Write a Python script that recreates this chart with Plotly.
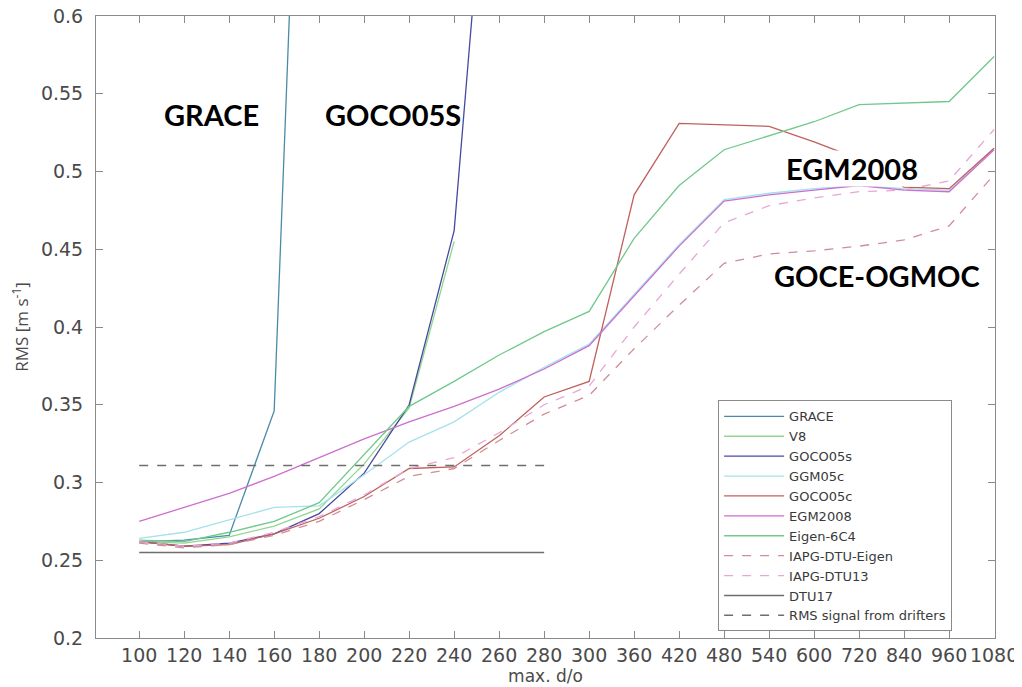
import plotly.graph_objects as go

degrees = ["100", "120", "140", "160", "180", "200", "220", "240", "260", "280",
           "300", "360", "420", "480", "540", "600", "720", "840", "960", "1080"]

grace = [0.262, 0.263, 0.266, 0.346, 1.10]
v8 = [0.262, 0.261, 0.265, 0.272, 0.283, 0.312, 0.348, 0.455]
goco05s = [0.262, 0.259, 0.261, 0.267, 0.280, 0.306, 0.350, 0.462, 0.81]
ggm05c = [0.264, 0.268, 0.276, 0.284, 0.285, 0.305, 0.326, 0.339, 0.358, 0.374,
          0.389, 0.421, 0.453, 0.482, 0.486, 0.489, 0.491, 0.489, 0.488, 0.515]
goco05c = [0.262, 0.259, 0.260, 0.267, 0.277, 0.291, 0.309, 0.310, 0.330, 0.355,
           0.365, 0.485, 0.531, 0.530, 0.529, 0.519, 0.508, 0.490, 0.489, 0.515]
egm2008 = [0.275, 0.284, 0.293, 0.304, 0.316, 0.328, 0.339, 0.349, 0.360, 0.373,
           0.388, 0.420, 0.452, 0.481, 0.485, 0.488, 0.491, 0.488, 0.487, 0.514]
eigen6c4 = [0.263, 0.262, 0.268, 0.275, 0.287, 0.318, 0.349, 0.365, 0.382, 0.397,
            0.410, 0.457, 0.491, 0.514, 0.523, 0.532, 0.543, 0.544, 0.545, 0.574]
iapg_dtu13 = [0.262, 0.259, 0.261, 0.268, 0.278, 0.292, 0.309, 0.316, 0.332, 0.350,
              0.362, 0.400, 0.434, 0.467, 0.478, 0.483, 0.487, 0.488, 0.494, 0.527]
iapg_dtu_eigen = [0.261, 0.258, 0.260, 0.266, 0.275, 0.289, 0.304, 0.309, 0.327, 0.344,
                  0.356, 0.386, 0.414, 0.441, 0.447, 0.449, 0.452, 0.456, 0.465, 0.498]
dtu17_level = 0.255
drifter_rms = 0.311
ref_extent = ["100", "280"]

series = [
    ("GRACE", grace, "#4a8aa8", "solid"),
    ("V8", v8, "#8fd88f", "solid"),
    ("GOCO05s", goco05s, "#4848a0", "solid"),
    ("GGM05c", ggm05c, "#a4e2ec", "solid"),
    ("GOCO05c", goco05c, "#c0605c", "solid"),
    ("EGM2008", egm2008, "#cc6fd0", "solid"),
    ("Eigen-6C4", eigen6c4, "#6fc98c", "solid"),
    ("IAPG-DTU-Eigen", iapg_dtu_eigen, "#cf8e96", "dash"),
    ("IAPG-DTU13", iapg_dtu13, "#e7a6d6", "dash"),
]

fig = go.Figure()
for name, vals, color, dash in series:
    fig.add_trace(go.Scatter(x=degrees[:len(vals)], y=vals, name=name, mode="lines",
                             line=dict(color=color, width=1.3, dash=dash)))
fig.add_trace(go.Scatter(x=ref_extent, y=[dtu17_level, dtu17_level], name="DTU17",
                         mode="lines", line=dict(color="#6e6e6e", width=1.5)))
fig.add_trace(go.Scatter(x=ref_extent, y=[drifter_rms, drifter_rms],
                         name="RMS signal from drifters", mode="lines",
                         line=dict(color="#6e6e6e", width=1.5, dash="dash")))

axis_common = dict(showline=True, linecolor="#8a8a8a", linewidth=1, mirror="ticks",
                   ticks="inside", ticklen=7, tickcolor="#8a8a8a", showgrid=False,
                   zeroline=False, automargin=False, ticklabeloverflow="allow",
                   tickfont=dict(family="DejaVu Sans", size=19, color="#4a4a4a"))

fig.update_xaxes(type="category", categoryorder="array", categoryarray=degrees,
                 range=[-0.96, 19.02], tickangle=0,
                 title=dict(text="max. d/o", standoff=2,
                            font=dict(family="DejaVu Sans", size=17, color="#4a4a4a")),
                 **axis_common)
fig.update_yaxes(range=[0.2, 0.6], tickvals=[0.2, 0.25, 0.3, 0.35, 0.4, 0.45, 0.5, 0.55, 0.6],
                 ticktext=["0.2", "0.25", "0.3", "0.35", "0.4", "0.45", "0.5", "0.55", "0.6"],
                 ticklabelstandoff=8,
                 title=dict(text="RMS [m s<sup>-1</sup>]", standoff=14,
                            font=dict(family="Open Sans", size=17, color="#4a4a4a")),
                 **axis_common)

labels = [("GRACE", 0.129, 0.842, False), ("GOCO05S", 0.330, 0.842, False),
          ("EGM2008", 0.841, 0.755, True), ("GOCE-OGMOC", 0.869, 0.582, False)]
for txt, xp, yp, bg in labels:
    fig.add_annotation(text="<b>%s</b>" % txt, x=xp, y=yp, xref="paper", yref="paper",
                       showarrow=False, xanchor="center", yanchor="middle",
                       bgcolor="white" if bg else None, borderpad=0,
                       font=dict(family="Lato", size=29, color="black"))

fig.update_layout(
    width=1014, height=679,
    margin=dict(l=88, r=27, t=8, b=49, autoexpand=False),
    paper_bgcolor="white", plot_bgcolor="white",
    showlegend=True,
    legend=dict(x=0.692, y=0.382, xanchor="left", yanchor="top",
                bgcolor="white", bordercolor="#8a8a8a", borderwidth=1,
                font=dict(family="DejaVu Sans", size=13, color="#3a3a3a"),
                tracegroupgap=0, itemwidth=60),
)

fig.write_html("out.html")
